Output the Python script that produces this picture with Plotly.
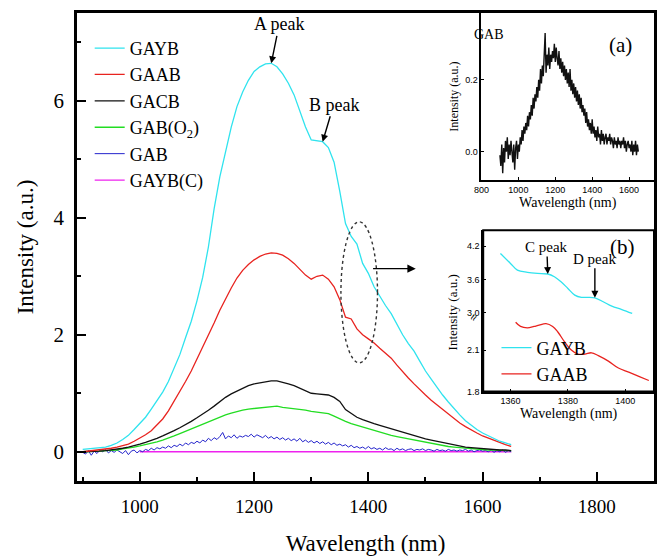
import plotly.graph_objects as go

# ---------------- data ----------------
wl = list(range(900, 1651, 10))
gayb = [0.04, 0.05, 0.05, 0.06, 0.08, 0.11, 0.15, 0.21, 0.28, 0.38,
        0.48, 0.59, 0.73, 0.87, 1.02, 1.20, 1.42, 1.66, 1.95, 2.23,
        2.58, 2.98, 3.50, 4.15, 4.70, 5.15, 5.55, 5.90, 6.15, 6.35,
        6.50, 6.58, 6.63, 6.64, 6.58, 6.46, 6.30, 6.10, 5.82, 5.55,
        5.33, 5.32, 5.30, 5.20, 4.95, 4.45, 3.90, 3.68, 3.55, 3.22,
        3.05, 2.82, 2.65, 2.50, 2.36, 2.18, 2.00, 1.85, 1.72, 1.55,
        1.38, 1.24, 1.10, 0.97, 0.85, 0.73, 0.63, 0.53, 0.45, 0.38,
        0.32, 0.27, 0.22, 0.18, 0.15, 0.12]
gaab = [0.00, 0.01, 0.02, 0.03, 0.04, 0.06, 0.08, 0.10, 0.13, 0.18,
        0.23, 0.29, 0.36, 0.46, 0.56, 0.70, 0.86, 1.03, 1.20, 1.38,
        1.58, 1.78, 1.98, 2.20, 2.42, 2.62, 2.80, 2.97, 3.10, 3.20,
        3.28, 3.34, 3.38, 3.40, 3.39, 3.36, 3.30, 3.22, 3.12, 3.02,
        2.95, 3.00, 3.02, 2.95, 2.82, 2.60, 2.30, 2.27, 2.10, 2.00,
        1.93, 1.86, 1.77, 1.68, 1.60, 1.48, 1.36, 1.26, 1.16, 1.06,
        0.97, 0.88, 0.80, 0.72, 0.64, 0.56, 0.49, 0.43, 0.37, 0.32,
        0.27, 0.23, 0.19, 0.15, 0.12, 0.09]
gacb = [0.00, 0.00, 0.01, 0.01, 0.02, 0.03, 0.04, 0.06, 0.08, 0.10,
        0.13, 0.16, 0.19, 0.23, 0.27, 0.31, 0.36, 0.41, 0.46, 0.52,
        0.58, 0.64, 0.71, 0.78, 0.86, 0.93, 0.99, 1.04, 1.09, 1.13,
        1.16, 1.18, 1.20, 1.21, 1.21, 1.19, 1.16, 1.13, 1.09, 1.04,
        1.00, 0.99, 0.98, 0.97, 0.93, 0.86, 0.72, 0.66, 0.59, 0.55,
        0.51, 0.48, 0.45, 0.42, 0.39, 0.36, 0.33, 0.30, 0.28, 0.25,
        0.22, 0.20, 0.18, 0.16, 0.13, 0.11, 0.10, 0.08, 0.07, 0.06,
        0.05, 0.05, 0.04, 0.03, 0.03, 0.02]
gab_o2 = [0.00, 0.00, 0.01, 0.01, 0.02, 0.02, 0.03, 0.05, 0.06, 0.08,
          0.10, 0.12, 0.14, 0.17, 0.20, 0.23, 0.27, 0.31, 0.35, 0.39,
          0.43, 0.47, 0.51, 0.56, 0.60, 0.63, 0.66, 0.69, 0.71, 0.73,
          0.74, 0.75, 0.76, 0.77, 0.78, 0.76, 0.75, 0.74, 0.72, 0.71,
          0.69, 0.68, 0.67, 0.65, 0.61, 0.56, 0.52, 0.48, 0.45, 0.42,
          0.39, 0.36, 0.33, 0.31, 0.28, 0.26, 0.24, 0.22, 0.20, 0.18,
          0.16, 0.14, 0.12, 0.11, 0.09, 0.08, 0.07, 0.06, 0.05, 0.05,
          0.04, 0.03, 0.03, 0.02, 0.02, 0.02]

wl_gab = list(range(900, 1651, 5))
gab = [-0.01, -0.04, 0.02, -0.06, 0.01, -0.03, 0.03, 0.00, 0.04, -0.02,
       0.02, -0.01, 0.03, 0.00, -0.03, 0.02, -0.05, 0.01, 0.03, -0.02,
       0.02, 0.00, 0.04, 0.02, 0.06, 0.03, 0.07, 0.05, 0.08, 0.06,
       0.10, 0.07, 0.11, 0.09, 0.13, 0.10, 0.15, 0.12, 0.16, 0.14,
       0.18, 0.15, 0.20, 0.17, 0.23, 0.19, 0.24, 0.21, 0.26, 0.33,
       0.22, 0.27, 0.24, 0.29, 0.23, 0.27, 0.25, 0.28, 0.26, 0.30,
       0.25, 0.29, 0.26, 0.24, 0.28, 0.23, 0.26, 0.22, 0.25, 0.21,
       0.24, 0.20, 0.23, 0.19, 0.22, 0.18, 0.23, 0.17, 0.20, 0.16,
       0.19, 0.15, 0.18, 0.14, 0.17, 0.13, 0.16, 0.12, 0.15, 0.11,
       0.13, 0.10, 0.12, 0.08, 0.11, 0.07, 0.09, 0.06, 0.08, 0.05,
       0.09, 0.05, 0.07, 0.04, 0.06, 0.03, 0.07, 0.04, 0.05, 0.02,
       0.06, 0.03, 0.05, 0.02, 0.04, 0.05, 0.02, 0.04, 0.03, 0.05,
       0.02, 0.04, 0.03, 0.01, 0.04, 0.02, 0.03, 0.01, 0.04, 0.02,
       0.03, 0.01, 0.03, 0.02, 0.04, 0.01, 0.03, 0.00, 0.02, 0.03,
       0.01, 0.02, 0.00, 0.03, -0.01, 0.02, 0.00, 0.03, -0.01, 0.02,
       0.00]

wl_c = [1000, 1100, 1200, 1300, 1400, 1500, 1600, 1650]
gayb_c = [0.0, 0.0, 0.0, 0.0, 0.0, 0.0, 0.0, 0.0]

# inset (b): zoomed region
zb_wl_gayb = [1356.5, 1360.0, 1362.4, 1365.9, 1369.4, 1373.0, 1375.3, 1377.6, 1380.0,
              1382.4, 1384.7, 1387.0, 1389.4, 1392.3, 1395.3, 1398.8, 1402.4]
zb_gayb = [4.07, 3.89, 3.77, 3.73, 3.71, 3.70, 3.65, 3.56, 3.44,
           3.32, 3.28, 3.28, 3.27, 3.20, 3.12, 3.06, 2.99]
zb_wl_gaab = [1361.8, 1363.5, 1365.9, 1368.2, 1370.0, 1372.4, 1374.7, 1376.5, 1378.8,
              1381.2, 1383.5, 1385.9, 1388.2, 1390.6, 1394.1, 1397.6, 1401.2, 1404.7, 1408.2]
zb_gaab = [2.30, 2.27, 2.26, 2.27, 2.28, 2.29, 2.27, 2.23, 2.16,
           2.10, 2.07, 2.07, 2.08, 2.06, 2.02, 1.97, 1.94, 1.91, 1.88]

main_x_ticks = [1000, 1200, 1400, 1600, 1800]
main_y_ticks = [0, 2, 4, 6]
inset_a_x_ticks = [800, 1000, 1200, 1400, 1600]
inset_a_y_ticks = [0.0, 0.2]
inset_b_x_ticks = [1360, 1380, 1400]
inset_b_y_upper = [3.0, 3.6, 4.2]
inset_b_y_lower = [1.8, 2.1]

# ---------------- styles ----------------
SERIF = "Liberation Serif"
SANS = "Liberation Sans"
CYAN = "#2fe3ee"
RED = "#e8231f"
BLACK = "#111111"
GREEN = "#22dd22"
BLUE = "#2424cc"
MAGENTA = "#ee22ee"

fig = go.Figure()

fig.add_trace(go.Scatter(x=wl_c, y=gayb_c, name="GAYB(C)", mode="lines",
                         line=dict(color=MAGENTA, width=1.3), legendrank=6))
fig.add_trace(go.Scatter(x=wl_gab, y=gab, name="GAB", mode="lines",
                         line=dict(color=BLUE, width=1.0), legendrank=5))
fig.add_trace(go.Scatter(x=wl, y=gab_o2, name="GAB(O<sub>2</sub>)", mode="lines",
                         line=dict(color=GREEN, width=1.3), legendrank=4))
fig.add_trace(go.Scatter(x=wl, y=gacb, name="GACB", mode="lines",
                         line=dict(color=BLACK, width=1.3), legendrank=3))
fig.add_trace(go.Scatter(x=wl, y=gaab, name="GAAB", mode="lines",
                         line=dict(color=RED, width=1.3), legendrank=2))
fig.add_trace(go.Scatter(x=wl, y=gayb, name="GAYB", mode="lines",
                         line=dict(color=CYAN, width=1.3), legendrank=1))

# inset (a)
fig.add_trace(go.Scatter(x=wl_gab, y=gab, mode="lines", showlegend=False,
                         line=dict(color=BLACK, width=1.4), xaxis="x2", yaxis="y2"))

# inset (b)
fig.add_trace(go.Scatter(x=zb_wl_gayb, y=zb_gayb, name="GAYB", mode="lines",
                         line=dict(color=CYAN, width=1.3, shape="spline"),
                         xaxis="x3", yaxis="y3", legend="legend2"))
fig.add_trace(go.Scatter(x=zb_wl_gaab, y=zb_gaab, name="GAAB", mode="lines",
                         line=dict(color=RED, width=1.3, shape="spline"),
                         xaxis="x3", yaxis="y4", legend="legend2"))

axis_common = dict(showgrid=False, zeroline=False, showline=True, linecolor="black",
                   ticks="inside", tickcolor="black", automargin=False)

small_tick_font = dict(family=SANS, size=9, color="black")

fig.update_layout(
    width=657, height=557,
    margin=dict(l=77, r=3, t=13, b=76, autoexpand=False),
    paper_bgcolor="white", plot_bgcolor="white",
    font=dict(family=SERIF, color="black"),
    xaxis=dict(**axis_common, domain=[0, 1], anchor="y", range=[890, 1900],
               tickvals=main_x_ticks, ticklen=9, tickwidth=2, linewidth=2.5, mirror=True,
               minor=dict(ticks="inside", ticklen=4, tickwidth=2, dtick=100, tick0=900,
                          tickcolor="black"),
               tickfont=dict(family=SERIF, size=19), ticklabelstandoff=6,
               title=dict(text="Wavelength (nm)", font=dict(family=SERIF, size=23), standoff=20)),
    yaxis=dict(**axis_common, domain=[0, 1], anchor="x", range=[-0.5, 7.5],
               tickvals=main_y_ticks, ticklen=9, tickwidth=2, linewidth=2.5, mirror=True,
               minor=dict(ticks="inside", ticklen=4, tickwidth=2, dtick=1, tick0=0,
                          tickcolor="black"),
               tickfont=dict(family=SERIF, size=21), ticklabelstandoff=6,
               title=dict(text="Intensity (a.u.)", font=dict(family=SERIF, size=23), standoff=14)),
    xaxis2=dict(**axis_common, domain=[0.701, 1.0], anchor="y2", range=[800, 1735],
                tickvals=inset_a_x_ticks, ticklen=3, linewidth=2, mirror=True,
                tickfont=small_tick_font,
                title=dict(text="Wavelength (nm)", font=dict(family=SERIF, size=14), standoff=2)),
    yaxis2=dict(**axis_common, domain=[0.643, 1.0], anchor="x2", range=[-0.079, 0.386],
                tickvals=inset_a_y_ticks, ticktext=["0.0", "0.2"], ticklen=3, linewidth=2,
                mirror=True, tickfont=small_tick_font,
                title=dict(text="Intensity (a.u.)", font=dict(family=SERIF, size=12), standoff=4)),
    xaxis3=dict(**axis_common, domain=[0.704, 1.0], anchor="y4", range=[1350.5, 1410],
                tickvals=inset_b_x_ticks, ticklen=3, linewidth=2,
                tickfont=small_tick_font,
                title=dict(text="Wavelength (nm)", font=dict(family=SERIF, size=14), standoff=2)),
    yaxis3=dict(**axis_common, domain=[0.351, 0.536], anchor="x3", range=[2.93, 4.49],
                tickvals=inset_b_y_upper, ticktext=["3.0", "3.6", "4.2"], ticklen=3,
                linewidth=2, tickfont=small_tick_font),
    yaxis4=dict(**axis_common, domain=[0.191, 0.351], anchor="x3", range=[1.8, 2.34],
                tickvals=inset_b_y_lower, ticktext=["1.8", "2.1"], ticklen=3,
                linewidth=2, tickfont=small_tick_font),
    legend=dict(x=0.022, y=0.964, xanchor="left", yanchor="top",
                bgcolor="rgba(0,0,0,0)", font=dict(family=SERIF, size=18),
                tracegroupgap=0, traceorder="normal"),
    legend2=dict(x=0.727, y=0.324, xanchor="left", yanchor="top",
                 bgcolor="rgba(0,0,0,0)", font=dict(family=SERIF, size=18),
                 tracegroupgap=0),
)

# frame of inset (b)
fig.add_shape(type="rect", xref="paper", yref="paper", x0=0.704, x1=1.0, y0=0.191, y1=0.536,
              line=dict(color="black", width=2))
# dotted ellipse marking zoomed region
fig.add_shape(type="circle", xref="x", yref="y", x0=1352, x1=1416, y0=1.52, y1=3.93,
              line=dict(color="#333333", width=1.4, dash="dot"))

arrow_kw = dict(showarrow=True, arrowhead=2, arrowsize=1, arrowwidth=1.4, arrowcolor="black",
                standoff=0)

# main annotations
ia = gayb.index(max(gayb))
fig.add_annotation(x=wl[ia], y=gayb[ia], text="A peak", ax=8, ay=-39,
                   font=dict(family=SERIF, size=18), **arrow_kw)
ib = wl.index(1320)
fig.add_annotation(x=wl[ib], y=gayb[ib], text="B peak", ax=11, ay=-37,
                   font=dict(family=SERIF, size=18), **arrow_kw)
fig.add_annotation(x=1483, y=3.13, ax=1403, ay=3.13, axref="x", ayref="y", text=" ",
                   showarrow=True, arrowhead=2, arrowsize=1.2, arrowwidth=1.4,
                   arrowcolor="black")

# inset (a) annotations
fig.add_annotation(xref="paper", yref="paper", x=0.743, y=0.975, text="GAB",
                   showarrow=False, font=dict(family=SERIF, size=14))
fig.add_annotation(xref="paper", yref="paper", x=0.965, y=0.962, text="(a)",
                   showarrow=False, font=dict(family=SERIF, size=21))

# inset (b) annotations
ic = zb_wl_gayb.index(1373.0)
fig.add_annotation(x=zb_wl_gayb[ic], y=zb_gayb[ic], xref="x3", yref="y3", text="C peak",
                   ax=-1, ay=-27, font=dict(family=SERIF, size=15), **arrow_kw)
idd = zb_wl_gayb.index(1389.4)
fig.add_annotation(x=zb_wl_gayb[idd], y=zb_gayb[idd], xref="x3", yref="y3", text="D peak",
                   ax=0, ay=-39, font=dict(family=SERIF, size=15), **arrow_kw)
fig.add_annotation(xref="paper", yref="paper", x=0.97, y=0.5, text="(b)",
                   showarrow=False, font=dict(family=SERIF, size=21))
fig.add_annotation(xref="paper", yref="paper", x=0.651, y=0.274, text="Intensity (a.u.)",
                   textangle=-90, showarrow=False, font=dict(family=SERIF, size=13))
fig.add_annotation(xref="paper", yref="paper", x=0.706, y=0.351, text="≈",
                   textangle=-60, showarrow=False, font=dict(family=SANS, size=12))

fig.write_html("out.html", config={"displayModeBar": False},
               post_script="document.body.style.margin='0';")
